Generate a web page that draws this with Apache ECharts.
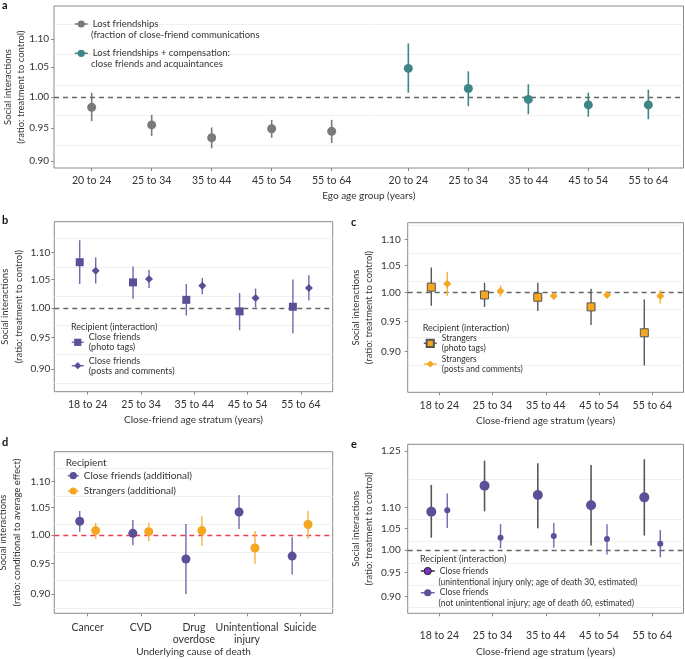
<!DOCTYPE html>
<html><head><meta charset="utf-8">
<script src="https://cdn.jsdelivr.net/npm/echarts@6/dist/echarts.min.js"></script>
<style>html,body{margin:0;padding:0;background:#fff}#c{width:685px;height:659px}</style>
</head><body><div id="c"></div>
<script>
// ---------------- DATA ----------------
const egoAgeGroups = ['20 to 24','25 to 34','35 to 44','45 to 54','55 to 64'];
const aLostMean = [0.983,0.955,0.935,0.949,0.945];
const aLostLow  = [0.961,0.938,0.919,0.935,0.927];
const aLostHigh = [1.007,0.971,0.951,0.963,0.963];
const aCompMean = [1.048,1.014,0.996,0.987,0.987];
const aCompLow  = [1.007,0.985,0.972,0.968,0.964];
const aCompHigh = [1.092,1.043,1.021,1.007,1.012];

const friendAgeStrata = ['18 to 24','25 to 34','35 to 44','45 to 54','55 to 64'];
const bPhotoMean = [1.082,1.045,1.014,0.994,1.002];
const bPhotoLow  = [1.042,1.016,0.987,0.962,0.957];
const bPhotoHigh = [1.124,1.074,1.042,1.026,1.050];
const bPostsMean = [1.066,1.051,1.039,1.017,1.035];
const bPostsLow  = [1.043,1.035,1.024,1.001,1.013];
const bPostsHigh = [1.091,1.068,1.053,1.034,1.058];

const cPhotoMean = [1.010,0.996,0.992,0.975,0.931];
const cPhotoLow  = [0.977,0.975,0.968,0.944,0.878];
const cPhotoHigh = [1.046,1.018,1.018,1.007,0.988];
const cPostsMean = [1.016,1.003,0.994,0.996,0.994];
const cPostsLow  = [0.994,0.993,0.988,0.992,0.981];
const cPostsHigh = [1.038,1.013,0.999,1.002,1.005];

const causes = ['Cancer','CVD','Drug\noverdose','Unintentional\ninjury','Suicide'];
const dCloseMean = [1.025,1.003,0.958,1.042,0.963];
const dCloseLow  = [1.006,0.982,0.900,1.011,0.932];
const dCloseHigh = [1.044,1.027,1.020,1.074,0.996];
const dStrangMean = [1.008,1.006,1.008,0.977,1.019];
const dStrangLow  = [0.993,0.989,0.981,0.950,0.993];
const dStrangHigh = [1.022,1.022,1.034,1.007,1.044];

const eInjuryMean = [1.090,1.156,1.132,1.106,1.126];
const eInjuryLow  = [1.028,1.091,1.050,1.010,1.033];
const eInjuryHigh = [1.158,1.223,1.216,1.211,1.227];
const eOtherMean = [1.094,1.028,1.032,1.025,1.014];
const eOtherLow  = [1.051,1.004,1.005,0.990,0.984];
const eOtherHigh = [1.136,1.060,1.063,1.060,1.046];

const yTicksAD = [0.90,0.95,1.00,1.05,1.10];
const yTicksE  = [0.90,0.95,1.00,1.05,1.10,1.25];

// ---------------- LAYOUT / STYLE ----------------
const FONT = 'Lato';
const TXT = '#333';
const FRAME = '#8a8a8a';
const L = Math.log;
const DODGE = 0.15;
const A_GROUP2_START = 5.277;

const idx = egoAgeGroups.map((_, i) => i);
const aX1 = idx.slice();
const aX2 = idx.map(i => i + A_GROUP2_START);
const catX = friendAgeStrata.map((_, i) => i);

function minorLines(ticks) {
  const t = ticks.map(L), out = [];
  for (let i = 0; i < t.length - 1; i++) out.push((t[i] + t[i+1]) / 2);
  out.push(t[0] - (t[1]-t[0]) / 2);
  out.push(t[t.length-1] + (t[t.length-1]-t[t.length-2]) / 2);
  return out;
}

const grids = [
  {left:54,    top:6,     width:629.5, height:162},
  {left:54.3,  top:221.7, width:278.4, height:170},
  {left:407.7, top:222.7, width:275.8, height:169.6},
  {left:54.3,  top:451.7, width:278.4, height:161.6},
  {left:407.7, top:444.3, width:275.8, height:169}
].map(g => Object.assign(g, {show:true, borderColor:FRAME, borderWidth:1, backgroundColor:'#fff',
  containLabel:false, outerBoundsMode:'none'}));

function xAxisCfg(gi, min, max, positions, labels, name, labelMargin, nameGap) {
  return {
    type:'value', gridIndex:gi, min, max, position:'bottom',
    splitLine:{show:false}, axisLine:{show:false, onZero:false}, nameMoveOverlap:false,
    axisTick:{show:true, customValues:positions, length:3, lineStyle:{color:FRAME}},
    axisLabel:{customValues:positions, margin:labelMargin, hideOverlap:false,
      formatter:(v) => { const k = positions.findIndex(p => Math.abs(p - v) < 1e-6); return k >= 0 ? labels[k] : ''; },
      color:TXT, fontFamily:FONT, fontSize:10.5, lineHeight:12},
    name, nameLocation:'middle', nameGap,
    nameTextStyle:{color:TXT, fontFamily:FONT, fontSize:10}
  };
}
function yAxisCfg(gi, min, max, ticks, name, nameGap, labelMargin) {
  const tv = ticks.map(L);
  return {
    type:'value', gridIndex:gi, min, max, position:'left',
    splitLine:{show:false}, axisLine:{show:false, onZero:false}, nameMoveOverlap:false,
    axisTick:{show:true, customValues:tv, length:3, lineStyle:{color:FRAME}},
    axisLabel:{customValues:tv, margin:labelMargin, formatter:(v) => Math.exp(v).toFixed(2),
      color:TXT, fontFamily:FONT, fontSize:10},
    name, nameLocation:'middle', nameGap, nameRotate:90,
    nameTextStyle:{color:TXT, fontFamily:FONT, fontSize:9.5, lineHeight:13.5, align:'center'}
  };
}

function errSeries(gi, xs, lo, hi, color, width) {
  return {
    type:'custom', xAxisIndex:gi, yAxisIndex:gi, silent:true, z:2,
    encode:{x:0, y:[1,2]},
    data: xs.map((x, i) => [x, L(lo[i]), L(hi[i])]),
    renderItem:(params, api) => {
      const p1 = api.coord([api.value(0), api.value(1)]);
      const p2 = api.coord([api.value(0), api.value(2)]);
      return {type:'line', shape:{x1:p1[0], y1:p1[1], x2:p2[0], y2:p2[1]},
              style:{stroke:color, lineWidth:width}};
    }
  };
}
function refSeries(gi, ticks, refColor) {
  return {
    type:'line', xAxisIndex:gi, yAxisIndex:gi, data:[], silent:true, z:1,
    markLine:{silent:true, symbol:'none', label:{show:false}, animation:false, z:1,
      data: minorLines(ticks).map(v => ({yAxis:v, lineStyle:{color:'#f0f0f0', width:1, type:'solid'}}))
        .concat([{yAxis:0, lineStyle:{color:refColor, width:1.3, type:[5,4]}}])}
  };
}
function ptSeries(gi, name, xs, mean, symbol, size, color, border) {
  return {
    type:'line', name, xAxisIndex:gi, yAxisIndex:gi, z:3,
    data: xs.map((x, i) => [x, L(mean[i])]),
    symbol, symbolSize:size, showSymbol:true, showAllSymbol:true,
    lineStyle:{opacity:0}, silent:true, animation:false,
    itemStyle:{color, borderColor:border || color, borderWidth:border ? 1 : 0, opacity:1}
  };
}
function legendCfg(items, left, top, o) {
  return {
    left, top, orient:'vertical', selectedMode:false, padding:0,
    itemWidth:o.itemWidth, itemHeight:o.itemHeight || 9, itemGap:o.itemGap,
    formatter: (name) => o.firstLineOnly ? name.split('\n')[0] : name,
    textStyle:{color:TXT, fontFamily:FONT, fontSize:o.fontSize, lineHeight:o.lineHeight},
    data: items.map(it => ({name:it.name, lineStyle:{color:it.line, width:1.5, opacity:1, type:'solid'},
      itemStyle:it.item}))
  };
}
function txt(text, left, top, size, weight, lh) {
  return {text, left, top, padding:0,
    textStyle:{color:weight ? '#111' : TXT, fontFamily:FONT, fontSize:size, fontWeight:weight || 'normal', lineHeight:lh || size + 2}};
}

// colors
const GRAY = '#7a7a7a', TEAL = '#3f8686', PURPLE = '#5c4f98', PURPLE_BAR = '#7468ae',
      ORANGE = '#f5a71f', ORANGE_BAR = '#f7b43c', DARK = '#585858';

const names = {
  aLost:'Lost friendships\n(fraction of close-friend communications',
  aComp:'Lost friendships + compensation:\nclose friends and acquaintances',
  bPhoto:'Close friends\n(photo tags)',
  bPosts:'Close friends\n(posts and comments)',
  cPhoto:'Strangers\n(photo tags)',
  cPosts:'Strangers\n(posts and comments)',
  dClose:'Close friends (additional)',
  dStrang:'Strangers (additional)',
  eInj:'Close friends\n(unintentional injury only; age of death 30, estimated)',
  eOth:'Close friends\n(not unintentional injury; age of death 60, estimated)'
};
const second = (n) => n.split('\n')[1];

const yName = 'Social interactions\n(ratio: treatment to control)';
const ageTitle = 'Close-friend age stratum (years)';

const option = {
  animation:false,
  backgroundColor:'#fff',
  grid: grids,
  xAxis: [
    xAxisCfg(0, -0.628, 9.863, aX1.concat(aX2), egoAgeGroups.concat(egoAgeGroups), 'Ego age group (years)', 7, 23),
    xAxisCfg(1, -0.627, 4.597, catX, friendAgeStrata, ageTitle, 7, 23),
    xAxisCfg(2, -0.593, 4.586, catX, friendAgeStrata, ageTitle, 7, 23),
    xAxisCfg(3, -0.629, 4.614, catX, causes, 'Underlying cause of death', 8, 33),
    xAxisCfg(4, -0.593, 4.586, catX, friendAgeStrata, ageTitle, 16, 33)
  ],
  yAxis: [
    yAxisCfg(0, -0.1169, 0.1496, yTicksAD, yName, 26, 5),
    yAxisCfg(1, -0.1446, 0.1487, yTicksAD, yName, 29, 4),
    yAxisCfg(2, -0.1778, 0.125, yTicksAD, yName, 32, 7),
    yAxisCfg(3, -0.1399, 0.1489, yTicksAD, 'Social interactions\n(ratio: conditional to average effect)', 31, 4),
    yAxisCfg(4, -0.1428, 0.2383, yTicksE, yName, 32, 7)
  ],
  title: [
    txt('a', 2, -1, 11, 'bold'),
    txt('b', 2, 214, 11, 'bold'),
    txt('c', 351, 216, 11, 'bold'),
    txt('d', 2, 436, 11, 'bold'),
    txt('e', 351, 438, 11, 'bold'),
    txt(second(names.aLost), 91, 29.5, 9.5, null, 11),
    txt(second(names.aComp), 91, 58, 9.5, null, 11),
    txt('Recipient (interaction)', 71, 321.5, 9),
    txt('Recipient (interaction)', 422.7, 323, 9),
    txt('Recipient', 65.7, 456.5, 10),
    txt('Recipient (interaction)', 420, 553.5, 9),
    txt(second(names.eInj), 438.5, 577.5, 8.5, null, 10.5),
    txt(second(names.eOth), 438.5, 597.8, 8.5, null, 10.5)
  ],
  legend: [
    legendCfg([{name:names.aLost, line:GRAY}, {name:names.aComp, line:TEAL}], 74, 18.5,
      {itemWidth:13, itemGap:18.3, fontSize:9.5, lineHeight:11, firstLineOnly:true}),
    legendCfg([{name:names.bPhoto, line:PURPLE_BAR}, {name:names.bPosts, line:PURPLE_BAR}], 71, 332.3,
      {itemWidth:12, itemGap:3.4, fontSize:9, lineHeight:10}),
    legendCfg([{name:names.cPhoto, line:DARK}, {name:names.cPosts, line:ORANGE_BAR}], 423, 333.3,
      {itemWidth:13, itemGap:0.7, fontSize:8.5, lineHeight:10}),
    legendCfg([{name:names.dClose, line:PURPLE_BAR}, {name:names.dStrang, line:ORANGE_BAR}], 67, 469.7,
      {itemWidth:11, itemGap:3.3, fontSize:10, lineHeight:12}),
    legendCfg([{name:names.eInj, line:'#333', item:{color:'#7a30c0', borderColor:'#222', borderWidth:1}},
               {name:names.eOth, line:PURPLE_BAR}], 420, 565.8,
      {itemWidth:14, itemGap:11.2, fontSize:8.5, lineHeight:10.5, firstLineOnly:true})
  ],
  series: [
    refSeries(0, yTicksAD, '#666'),
    errSeries(0, aX1, aLostLow, aLostHigh, GRAY, 1.6),
    errSeries(0, aX2, aCompLow, aCompHigh, TEAL, 1.6),
    ptSeries(0, names.aLost, aX1, aLostMean, 'circle', 9, GRAY),
    ptSeries(0, names.aComp, aX2, aCompMean, 'circle', 9, TEAL),
    refSeries(1, yTicksAD, '#666'),
    errSeries(1, catX.map(x => x - DODGE), bPhotoLow, bPhotoHigh, PURPLE_BAR, 1.4),
    errSeries(1, catX.map(x => x + DODGE), bPostsLow, bPostsHigh, PURPLE_BAR, 1.4),
    ptSeries(1, names.bPhoto, catX.map(x => x - DODGE), bPhotoMean, 'rect', 8, PURPLE),
    ptSeries(1, names.bPosts, catX.map(x => x + DODGE), bPostsMean, 'diamond', 8, PURPLE),
    refSeries(2, yTicksAD, '#666'),
    errSeries(2, catX.map(x => x - DODGE), cPhotoLow, cPhotoHigh, DARK, 1.4),
    errSeries(2, catX.map(x => x + DODGE), cPostsLow, cPostsHigh, ORANGE_BAR, 1.4),
    ptSeries(2, names.cPhoto, catX.map(x => x - DODGE), cPhotoMean, 'rect', 8, ORANGE, '#555'),
    ptSeries(2, names.cPosts, catX.map(x => x + DODGE), cPostsMean, 'diamond', 8, ORANGE),
    refSeries(3, yTicksAD, '#ee3d52'),
    errSeries(3, catX.map(x => x - DODGE), dCloseLow, dCloseHigh, PURPLE_BAR, 1.4),
    errSeries(3, catX.map(x => x + DODGE), dStrangLow, dStrangHigh, ORANGE_BAR, 1.4),
    ptSeries(3, names.dClose, catX.map(x => x - DODGE), dCloseMean, 'circle', 9, PURPLE),
    ptSeries(3, names.dStrang, catX.map(x => x + DODGE), dStrangMean, 'circle', 9, ORANGE),
    refSeries(4, yTicksE, '#666'),
    errSeries(4, catX.map(x => x - DODGE), eInjuryLow, eInjuryHigh, DARK, 1.6),
    errSeries(4, catX.map(x => x + DODGE), eOtherLow, eOtherHigh, PURPLE_BAR, 1.4),
    ptSeries(4, names.eInj, catX.map(x => x - DODGE), eInjuryMean, 'circle', 10, PURPLE),
    ptSeries(4, names.eOth, catX.map(x => x + DODGE), eOtherMean, 'circle', 6, PURPLE)
  ]
};

const chart = echarts.init(document.getElementById('c'), null, {renderer:'canvas'});
chart.setOption(option);
</script>
</body></html>
